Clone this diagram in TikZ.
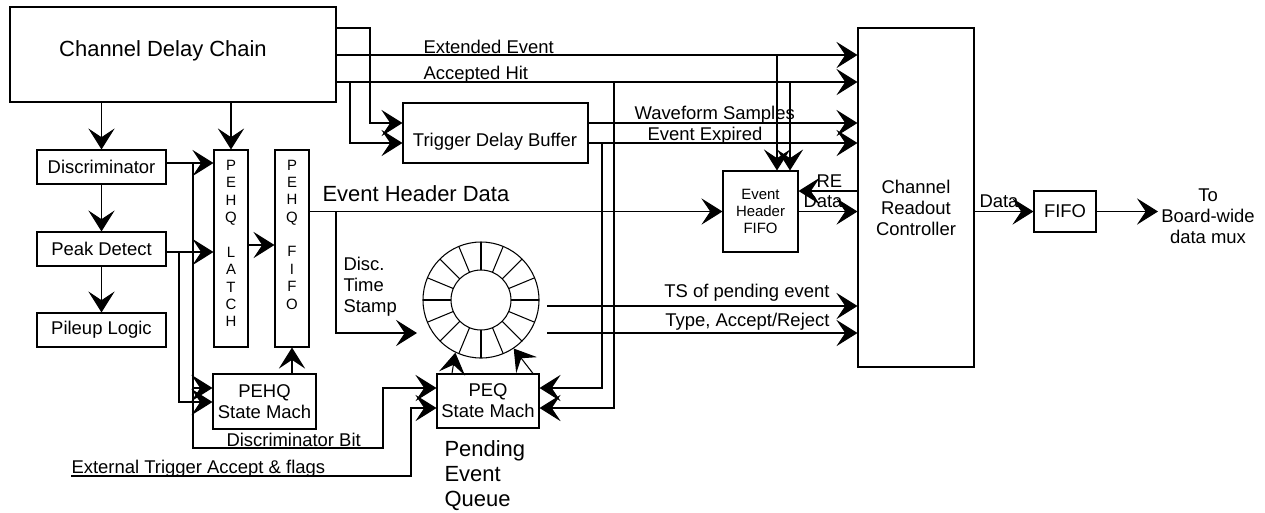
\documentclass[tikz,border=0pt]{standalone}
\usepackage{fontspec}
\setmainfont{Liberation Sans}
\usetikzlibrary{arrows.meta}

\begin{document}
\begin{tikzpicture}[x=0.02cm,y=-0.02cm,line width=0.6pt,
  blk/.style 2 args={draw,inner sep=0pt,minimum width=#1*0.02cm,minimum height=#2*0.02cm},
  sig/.style={-{Stealth[length=12pt,width=15pt,inset=5pt]}},
  big/.style={font=\fontsize{12.5}{14.2}\selectfont},
  txt/.style={font=\fontsize{10.5}{12}\selectfont,align=center},
  lbl/.style={font=\fontsize{10.5}{12}\selectfont},
  hdr/.style={font=\fontsize{8.5}{9.9}\selectfont,align=center},
  ltr/.style={font=\fontsize{8.5}{9.9}\selectfont,align=center}]
\tikzstyle{every node}+=[inner sep=0pt]
\useasboundingbox (0,0) rectangle (1265,512);
\node[blk={326}{95}] (cdc) at (173,54.5) {};
\node[big] (cdclbl) at (163,51) {Channel Delay Chain};
\node[blk={129}{34},txt] (disc) at (101.5,167) {Discriminator};
\node[blk={129}{34},txt] (peak) at (101.5,249) {Peak Detect};
\node[blk={129}{34},txt] (pile) at (101.5,330) {Pileup Logic};
\node[blk={34}{197}] (latch) at (231,248.5) {};
\node[ltr] (latchlbl) at (231,243.5) {P\\E\\H\\Q\\[9.9pt]L\\A\\T\\C\\H};
\node[blk={34}{197}] (fifo) at (292,248.5) {};
\node[ltr] (fifolbl) at (292,234.5) {P\\E\\H\\Q\\[9.9pt]F\\I\\F\\O};
\node[blk={185}{60}] (tdb) at (495.5,133) {};
\node[txt] (tdblbl) at (495,142) {Trigger Delay Buffer};
\node[blk={103}{55},txt] (pehqsm) at (264.5,401.5) {PEHQ\\State Mach};
\node[blk={102}{54},txt] (peqsm) at (488,401) {PEQ\\State Mach};
\node[blk={75}{81},hdr] (ehf) at (760.5,211.5) {Event\\Header\\FIFO};
\node[blk={116}{339}] (crc) at (916,197.5) {};
\node[txt] (crclbl) at (916,208) {Channel\\Readout\\Controller};
\node[blk={62}{41},txt] (ofifo) at (1065,211.5) {FIFO};
\node[circle,draw,minimum size=116*0.02cm] (ring) at (481,300) {};
\node[circle,draw,minimum size=60*0.02cm] (core) at (ring) {};
\foreach \a in {0,22.5,...,337.5}
  \draw (ring.center) ++(\a:30) -- ++(\a:28);
\coordinate (ytop) at (0,28);
\coordinate (yext) at (0,55);
\coordinate (yacc) at (0,82);
\coordinate (b1) at (370,123);
\coordinate (b2) at (350,143);
\coordinate (e1) at (777,0);
\coordinate (e2) at (790,0);
\coordinate (p1) at (602,388);
\coordinate (p2) at (614,408);
\coordinate (re) at (0,191);
\coordinate (t0) at (336,333);
\coordinate (ts) at (417,333);
\coordinate (r1) at (547,306);
\coordinate (r2) at (547,333);
\coordinate (q1) at (452,0);
\coordinate (q2) at (533,0);
\coordinate (dy) at (0,163);
\coordinate (py) at (0,252);
\coordinate (lf) at (0,245);
\coordinate (k1) at (193,388);
\coordinate (k2) at (179,402);
\coordinate (db1) at (193,448);
\coordinate (db2) at (383,388);
\coordinate (ext0) at (71,476);
\coordinate (ext1) at (411,408);
\coordinate (mux) at (1158,211.5);
\draw[sig] (cdc.east |- ytop) -| (b1) -- (tdb.west |- b1);
\draw[sig] (cdc.east |- yext) -- (crc.west |- yext);
\draw[sig] (cdc.east |- yacc) -- (crc.west |- yacc);
\draw[sig] (b2 |- yacc) -- (b2) -- (tdb.west |- b2);
\draw[sig] (tdb.east |- b1) -- (crc.west |- b1);
\draw[sig] (tdb.east |- b2) -- (crc.west |- b2);
\draw[sig] (e1 |- yext) -- (e1 |- ehf.north);
\draw[sig] (e2 |- yacc) -- (e2 |- ehf.north);
\draw[sig] (p1 |- b2) -- (p1) -- (peqsm.east |- p1);
\draw[sig] (p2 |- yacc) -- (p2) -- (peqsm.east |- p2);
\draw[sig] (crc.west |- re) -- (ehf.east |- re);
\draw[sig] (ehf.east) -- (crc.west |- ehf.east);
\draw[sig] (fifo.east |- ehf.west) -- (ehf.west);
\draw[sig] (t0 |- ehf.west) -- (t0) -- (ts);
\draw[sig] (r1) -- (crc.west |- r1);
\draw[sig] (r2) -- (crc.west |- r2);
\draw[sig] (q1 |- peqsm.north) -- (ring.244);
\draw[sig] (q2 |- peqsm.north) -- (ring.304);
\draw[sig] (disc.north |- cdc.south) -- (disc.north);
\draw[sig] (latch.north |- cdc.south) -- (latch.north);
\draw[sig] (disc.south) -- (peak.north);
\draw[sig] (peak.south) -- (pile.north);
\draw[sig] (disc.east |- dy) -- (latch.west |- dy);
\draw[sig] (peak.east |- py) -- (latch.west |- py);
\draw[sig] (latch.east |- lf) -- (fifo.west |- lf);
\draw[sig] (fifo.south |- pehqsm.north) -- (fifo.south);
\draw[sig] (k1 |- dy) -- (k1) -- (pehqsm.west |- k1);
\draw[sig] (k2 |- py) -- (k2) -- (pehqsm.west |- k2);
\draw[sig] (k1) -- (db1) -| (db2) -- (peqsm.west |- db2);
\draw[sig] (ext0) -| (ext1) -- (peqsm.west |- ext1);
\draw[sig] (crc.east |- ofifo.west) -- (ofifo.west);
\draw[sig] (ofifo.east) -- (mux);
\node[lbl,anchor=base west] (extlbl) at (423,53) {Extended Event};
\node[lbl,anchor=base west] (acclbl) at (423,79) {Accepted Hit};
\node[lbl,anchor=base west] (wavlbl) at (634,119) {Waveform Samples};
\node[lbl,anchor=base west] (explbl) at (647,140) {Event Expired};
\node[big,anchor=base west] (ehdlbl) at (322,201) {Event Header Data};
\node[lbl,anchor=base west] (relbl) at (816,187) {RE};
\node[lbl,anchor=base west] (datlbl) at (803,207) {Data};
\node[lbl,anchor=base west] (outlbl) at (979,207) {Data};
\node[txt] (muxlbl) at (1208,216) {To\\Board-wide\\data mux};
\node[lbl,anchor=base east] (tslbl) at (830,297) {TS of pending event};
\node[lbl,anchor=base east] (typlbl) at (830,326) {Type, Accept/Reject};
\node[lbl,align=left,anchor=west] (dtslbl) at (343,287) {Disc.\\Time\\Stamp};
\node[big,align=left,anchor=west] (pendlbl) at (444,476) {Pending\\Event\\Queue};
\node[lbl,anchor=base west] (dblbl) at (226,446) {Discriminator Bit};
\node[lbl,anchor=base west] (etlbl) at (71,473) {External Trigger Accept \& flags};
\end{tikzpicture}
\end{document}
